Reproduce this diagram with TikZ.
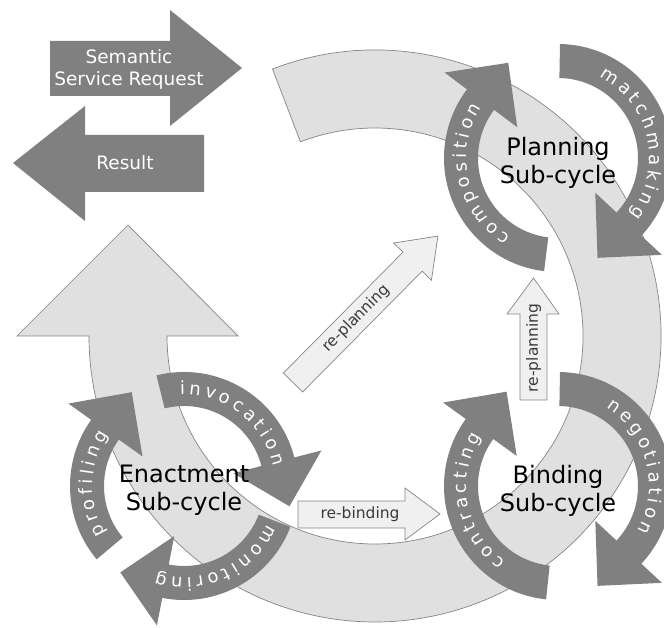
\documentclass[tikz,border=0pt]{standalone}
\usepackage{fontspec}
\setmainfont{DejaVu Sans}
\newfontfamily\arcfont{DejaVu Sans}[WordSpace=0.66]
\usetikzlibrary{calc,decorations.text}
\definecolor{darkg}{HTML}{808080}
\definecolor{ringfill}{HTML}{E0E0E0}
\definecolor{ringline}{HTML}{858585}
\definecolor{refill}{HTML}{F0F0F0}
\definecolor{retext}{HTML}{3A3A3A}
\tikzset{
  ring/.style={fill=ringfill, draw=ringline, line width=0.7pt},
  darkarrow/.style={fill=darkg},
  rearrow/.style={fill=refill, draw=ringline, line width=0.7pt},
  retxt/.style={text=retext, font=\fontsize{15.5}{18}\selectfont, inner sep=0pt},
  bigtxt/.style={align=center, font=\fontsize{24}{28}\selectfont, inner sep=0pt},
  whitetxt/.style={align=center, text=white, font=\fontsize{18.5}{22}\selectfont, inner sep=0pt}
}
\newcommand{\cyclearrow}[5]{%
  \fill[darkarrow] ($(#1)+(#2:114)$) arc[start angle=#2, end angle=#3, radius=114]
     -- ($(#1)+(#3:142)$) -- ($(#1)+({#3-25.4}:107.4)$) -- ($(#1)+(#3:51)$) -- ($(#1)+(#3:80)$)
     arc[start angle=#3, end angle=#2, radius=80] -- cycle;
  \begingroup\arcfont\fontsize{18}{20}\selectfont
  \path[decorate, decoration={text along path, text={|\arcfont\fontsize{18}{20}\selectfont|#4}, text align=center, text color=white}]
     ($(#1)+({#5+70}:91.5)$) arc[start angle={#5+70}, end angle={#5-70}, radius=91.5];
  \endgroup
}
\begin{document}
\begin{tikzpicture}[x=1pt,y=1pt]
\clip (0,0) rectangle (664,627);
\useasboundingbox (0,0) rectangle (664,627);
\coordinate (C) at (375,291);
\coordinate (P) at (558,469);
\coordinate (B) at (558,141);
\coordinate (E) at (184,141);

% big cycle arrow
\draw[ring] ($(C)+(111:286)$) arc[start angle=111, end angle=-180, radius=286]
  -- (17,291) -- (128,402) -- (238,291) -- ($(C)+(180:208)$)
  arc[start angle=-180, end angle=111, radius=208] -- cycle;

% request / result arrows
\fill[darkarrow] (50,586) -- (170,586) -- (170,617) -- (242,559) -- (170,501) -- (170,531) -- (50,531) -- cycle;
\node[whitetxt] (req) at (129,558) {Semantic\\Service Request};
\fill[darkarrow] (204,492) -- (85,492) -- (85,521) -- (13,464) -- (85,406) -- (85,435) -- (204,435) -- cycle;
\node[whitetxt] (res) at (125,464) {Result};

% re-arrows
\draw[rearrow] (298,126) -- (405,126) -- (405,139) -- (440,113) -- (405,87) -- (405,99) -- (298,99) -- cycle;
\node[retxt] (rebind) at (360,113) {re-binding};
\draw[rearrow] (520,227) -- (520,313) -- (507,313) -- (533.5,349) -- (559,313) -- (547,313) -- (547,227) -- cycle;
\node[retxt, rotate=90] (replan2) at (533.5,279) {re-planning};
\begin{scope}[shift={(293,244.5)}, rotate=45.3]
\draw[rearrow] (0,-13.5) -- (170,-13.5) -- (170,-26.5) -- (206,0) -- (170,26.5) -- (170,13.5) -- (0,13.5) -- cycle;
\node[retxt, rotate=45.3] (replan1) at (90,0) {re-planning};
\end{scope}

% sub-cycle arrows
\cyclearrow{P}{263}{143}{c o m p o s i t i o n}{192.5}
\cyclearrow{P}{89}{-43}{m a t c h m a k i n g}{12.5}
\cyclearrow{B}{264}{144}{c o n t r a c t i n g}{191}
\cyclearrow{B}{89}{-43}{n e g o t i a t i o n}{14.5}
\cyclearrow{E}{104}{14.5}{i n v o c a t i o n}{52.5}
\cyclearrow{E}{-21}{-101}{m o n i t o r i n g}{-66}
\cyclearrow{E}{220}{144.5}{p r o f i l i n g}{178.6}

\node[bigtxt] (plan) at ($(P)+(0,-4.5)$) {Planning\\Sub-cycle};
\node[bigtxt] (bind) at ($(B)+(0,-4.5)$) {Binding\\Sub-cycle};
\node[bigtxt] (enact) at ($(E)+(0,-4.5)$) {Enactment\\Sub-cycle};
\end{tikzpicture}
\end{document}
